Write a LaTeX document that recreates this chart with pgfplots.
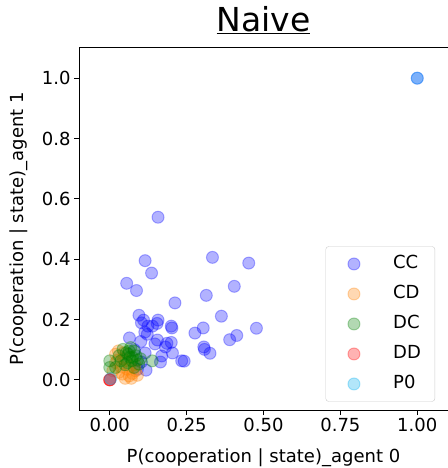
\documentclass[border=0pt]{standalone}
\usepackage{pgfplots}
\pgfplotsset{compat=1.18}
\usepackage{fontspec}
\setmainfont{DejaVu Sans}
\pgfplotsset{mylegend/.style={legend image code/.code={\path (0bp,0bp) (53bp,0bp); \draw[##1] plot coordinates {(20bp,0bp)};}}}
\begin{document}
\begin{tikzpicture}
\path[use as bounding box] (0,0) rectangle (448bp,468bp);
\begin{axis}[
  at={(79bp,58bp)}, anchor=south west,
  scale only axis, width=369bp, height=362bp,
  xmin=-0.1, xmax=1.1, ymin=-0.1, ymax=1.1,
  axis line style={black, line width=1bp},
  every tick/.style={black, line width=1bp},
  tick align=outside, major tick length=5bp,
  xtick={0,0.25,0.5,0.75,1}, ytick={0,0.2,0.4,0.6,0.8,1.0},
  xtick pos=bottom, ytick pos=left,
  /pgf/number format/assume math mode=true,
  xticklabel style={/pgf/number format/.cd, fixed, fixed zerofill, precision=2},
  yticklabel style={/pgf/number format/.cd, fixed, fixed zerofill, precision=1},
  tick label style={font=\fontsize{18bp}{21bp}\selectfont},
  xlabel={P(cooperation | state)\_agent 0},
  ylabel={P(cooperation | state)\_agent 1},
  label style={font=\fontsize{18bp}{21bp}\selectfont},
  xlabel style={at={(axis description cs:0.5,-0.1464)}, anchor=base, inner sep=0pt},
  ylabel style={at={(axis description cs:-0.187,0.5)}, anchor=north, rotate=0, inner sep=0pt},
  title={\underline{Naive}},
  title style={at={(axis description cs:0.5,1.0304)}, anchor=base, inner sep=0pt, font=\fontsize{33bp}{38bp}\selectfont},
  legend style={at={(0.965,0.023)}, anchor=south east, draw=black!20, rounded corners=3bp,
    fill=white, fill opacity=0.8, text opacity=1, font=\fontsize{18bp}{21bp}\selectfont,
    row sep=1bp, column sep=0bp, inner xsep=8bp, inner ysep=3bp,
    nodes={text height=13bp, text depth=4bp, inner sep=6bp}},
  legend cell align=left,
]
\addplot[only marks, mark=*, mark size=6bp, blue, mark options={line width=1bp, opacity=0.3}, mylegend] table {
x y
0.157 0.539
0.115 0.395
0.136 0.354
0.334 0.406
0.452 0.387
0.055 0.320
0.087 0.296
0.405 0.310
0.314 0.280
0.212 0.255
0.095 0.214
0.110 0.198
0.157 0.198
0.154 0.187
0.139 0.178
0.200 0.178
0.202 0.172
0.363 0.211
0.304 0.172
0.477 0.171
0.277 0.155
0.114 0.158
0.122 0.151
0.064 0.139
0.101 0.127
0.155 0.132
0.147 0.119
0.186 0.121
0.200 0.124
0.181 0.109
0.413 0.147
0.390 0.133
0.306 0.109
0.308 0.101
0.326 0.088
0.204 0.089
0.169 0.079
0.115 0.089
0.165 0.059
0.234 0.063
0.242 0.062
0.118 0.032
0.103 0.059
0.124 0.178
0.103 0.189
0.090 0.035
0.080 0.100
1.000 1.000
};
\addlegendentry{CC}
\addplot[only marks, mark=*, mark size=6bp, orange, mark options={line width=1bp, opacity=0.3}, mylegend] table {
x y
0.028 0.096
0.019 0.085
0.046 0.090
0.019 0.057
0.036 0.043
0.052 0.063
0.057 0.035
0.041 0.019
0.063 0.013
0.074 0.021
0.084 0.030
0.082 0.050
0.010 0.030
0.030 0.025
0.065 0.045
0.045 0.070
0.090 0.015
0.025 0.065
0.070 0.005
0.050 0.005
};
\addlegendentry{CD}
\addplot[only marks, mark=*, mark size=6bp, color={rgb,255:red,0;green,128;blue,0}, mark options={line width=1bp, opacity=0.3}, mylegend] table {
x y
0.063 0.096
0.054 0.090
0.043 0.101
0.068 0.107
0.074 0.074
0.036 0.063
0.019 0.041
0.057 0.057
0.095 0.052
0.138 0.063
0.079 0.041
0.000 0.063
0.000 0.041
0.072 0.063
0.085 0.080
0.065 0.075
0.050 0.050
0.090 0.065
0.060 0.085
0.080 0.095
0.100 0.070
0.030 0.080
};
\addlegendentry{DC}
\addplot[only marks, mark=*, mark size=6bp, red, mark options={line width=1bp, opacity=0.3}, mylegend] table {
x y
0.000 0.000
0.000 0.000
0.000 0.000
};
\addlegendentry{DD}
\addplot[only marks, mark=*, mark size=6bp, cyan, mark options={line width=1bp, opacity=0.3}, mylegend] table {
x y
0.003 0.004
1.000 1.000
};
\addlegendentry{P0}
\end{axis}
\end{tikzpicture}
\end{document}
